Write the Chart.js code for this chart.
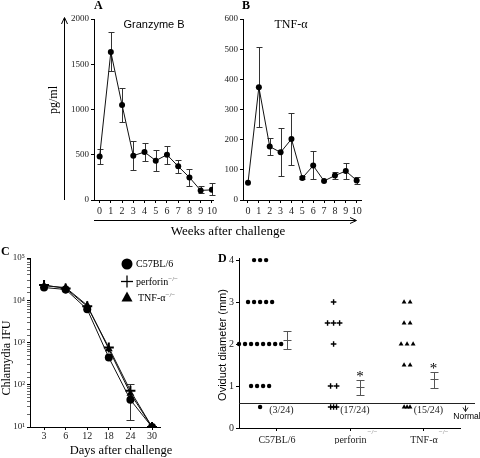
<!DOCTYPE html>
<html>
<head>
<meta charset="utf-8">
<title>Granzyme B, TNF-α and Chlamydia challenge</title>
<script src="https://cdn.jsdelivr.net/npm/chart.js@4.4.1/dist/chart.umd.min.js"></script>
<style>
  body { margin: 0; background: #fff; }
  #fig { position: relative; width: 480px; height: 458px; overflow: hidden;
         font-family: 'Liberation Serif', 'Times New Roman', serif; color: #000; }
  #fig canvas, #fig svg { position: absolute; }
  .lbl { position: absolute; white-space: nowrap; line-height: 1; }
  .c { transform: translate(-50%, -50%); }
  .rot { transform: translate(-50%, -50%) rotate(-90deg); }
  .letter { font-weight: bold; font-size: 12px; }
  .sans { font-family: 'Liberation Sans', Arial, sans-serif; }
  .leg { font-size: 10px; transform: translateY(-50%); }
  sup { font-size: 7px; color: #555; vertical-align: 4px; }
</style>
</head>
<body>
<div id="fig">
  <canvas id="chartA" width="161" height="206" style="left:60px;top:10px"></canvas>
  <canvas id="chartB" width="152" height="206" style="left:215px;top:10px"></canvas>
  <canvas id="chartC" width="168" height="203" style="left:0px;top:240px"></canvas>
  <canvas id="chartD" width="255" height="204" style="left:225px;top:240px"></canvas>

  <svg width="480" height="458" style="left:0;top:0">
    <g stroke="#000" stroke-width="1" fill="none">
      <!-- pg/ml arrow -->
      <line x1="64.5" y1="200" x2="64.5" y2="18"/>
      <polyline points="61.5,24 64.5,17.5 67.5,24"/>
      <!-- weeks arrow -->
      <line x1="94" y1="220.5" x2="356" y2="220.5"/>
      <polyline points="350,217.5 356.5,220.5 350,223.5"/>
      <!-- legend markers, panel C -->
      <line x1="121" y1="281.5" x2="133" y2="281.5" stroke-width="1.3"/>
      <line x1="127" y1="275.5" x2="127" y2="287.5" stroke-width="1.3"/>
    </g>
    <circle cx="127" cy="264" r="5.5" fill="#000"/>
    <polygon points="127,291.5 132.5,301.5 121.5,301.5" fill="#000"/>
  </svg>

  <div class="lbl letter" style="left:94px;top:-1px">A</div>
  <div class="lbl letter" style="left:242px;top:-1px">B</div>
  <div class="lbl letter" style="left:1px;top:245px">C</div>
  <div class="lbl letter" style="left:218px;top:252px">D</div>

  <div class="lbl c sans" style="left:154px;top:24px;font-size:11px">Granzyme B</div>
  <div class="lbl c" style="left:291px;top:24px;font-size:12px">TNF-α</div>
  <div class="lbl rot" style="left:53px;top:100px;font-size:12px">pg/ml</div>
  <div class="lbl c" style="left:228px;top:230px;font-size:13px">Weeks after challenge</div>

  <div class="lbl rot" style="left:6px;top:358px;font-size:12px">Chlamydia IFU</div>
  <div class="lbl c" style="left:121px;top:450px;font-size:12.5px">Days after challenge</div>
  <div class="lbl leg" style="left:136px;top:264px">C57BL/6</div>
  <div class="lbl leg" style="left:136px;top:281px">perforin<sup>−/−</sup></div>
  <div class="lbl leg" style="left:138px;top:297px">TNF-α<sup>−/−</sup></div>

  <div class="lbl rot sans" style="left:222px;top:345px;font-size:11px">Oviduct diameter (mm)</div>
</div>

<script>
// panels A and B: cytokines per week
const weeks = [0, 1, 2, 3, 4, 5, 6, 7, 8, 9, 10];
const granzymeB = [480, 1635, 1050, 490, 530, 435, 500, 372, 250, 106, 112];
const granzymeLow = [400, 1425, 865, 335, 430, 322, 400, 298, 160, 76, 52];
const granzymeHigh = [568, 1855, 1233, 650, 635, 547, 602, 444, 340, 150, 183];
const tnfAlpha = [57, 374, 177, 158, 202, 73, 114, 63, 81, 96, 65];
const tnfLow = [null, 242, 148, 80, 116, 68, 68, null, 69, 68, 54];
const tnfHigh = [null, 506, 204, 238, 287, 79, 162, null, 94, 124, 77];

// panel C: Chlamydia IFU per day
const days = ['3', '6', '12', '18', '24', '30'];
const ifuC57 = [20000, 18000, 6100, 440, 44, 10];
const ifuPerforin = [23000, 19000, 7200, 760, 72, 10];
const ifuTnf = [22000, 20000, 7600, 700, 62, 10];
const ifuC57Low = [null, null, null, null, 15, null];
const ifuC57High = [null, null, null, null, 105, null];

// panel D: oviduct diameter, dots per level
const groups = ['C57BL/6', 'perforin', 'TNF-α'];
const c57Levels = [4, 3, 2, 1, 0.5];
const c57Counts = [3, 5, 8, 4, 1];
const perforinLevels = [3, 2.5, 2, 1, 0.5];
const perforinCounts = [1, 3, 1, 2, 3];
const tnfLevels = [3, 2.5, 2, 1.5, 0.5];
const tnfCounts = [2, 2, 3, 2, 3];
const diamMean = [2.1, 0.97, 1.17];
const diamLow = [1.88, 0.79, 0.96];
const diamHigh = [2.32, 1.14, 1.34];
const normalCounts = ['(3/24)', '(17/24)', '(15/24)'];
const starred = [false, true, true];
const knockout = [false, true, true];
const normalLevel = 0.6;

const ink = '#000';
Chart.defaults.font.family = "'Liberation Serif', 'Times New Roman', serif";
Chart.defaults.font.size = 10;
Chart.defaults.color = '#222';
Chart.defaults.animation = false;
Chart.defaults.plugins.legend.display = false;
Chart.defaults.plugins.tooltip.enabled = false;

// vertical bars with caps, read from errLow / errHigh on the dataset
const errorBars = {
  id: 'errorBars',
  beforeDatasetsDraw(chart) {
    const ctx = chart.ctx, ys = chart.scales.y;
    chart.data.datasets.forEach((ds, di) => {
      if (!ds.errLow) return;
      const meta = chart.getDatasetMeta(di);
      ctx.save();
      ctx.strokeStyle = ds.errColor || '#333';
      ctx.lineWidth = 1;
      meta.data.forEach((pt, i) => {
        const lo = ds.errLow[i], hi = ds.errHigh[i];
        if (lo == null) return;
        const x = Math.round(pt.x) + 0.5;
        const yl = Math.round(ys.getPixelForValue(lo)) + 0.5;
        const yh = Math.round(ys.getPixelForValue(hi)) + 0.5;
        const w = ds.capWidth || 3;
        ctx.beginPath();
        ctx.moveTo(x, yl); ctx.lineTo(x, yh);
        ctx.moveTo(x - w, yl); ctx.lineTo(x + w, yl);
        ctx.moveTo(x - w, yh); ctx.lineTo(x + w, yh);
        if (ds.meanLine) {
          const ym = Math.round(pt.y) + 0.5;
          ctx.moveTo(x - w, ym); ctx.lineTo(x + w, ym);
        }
        ctx.stroke();
      });
      ctx.restore();
    });
  }
};

function axis(size, vertical, extra) {
  const a = {
    grid: { drawOnChartArea: false, color: ink, tickLength: 3 },
    border: { display: true, color: ink, width: 1 },
    ticks: { padding: 2, autoSkip: false, maxRotation: 0 },
    afterFit: vertical ? s => { s.width = size; } : s => { s.height = size; }
  };
  for (const k in extra) {
    if (k === 'ticks' || k === 'grid') Object.assign(a[k], extra[k]);
    else a[k] = extra[k];
  }
  return a;
}

function weekChart(id, values, low, high, yMax, yStep, xMin, xMax, yWidth, padRight) {
  return new Chart(document.getElementById(id), {
    type: 'line',
    data: {
      datasets: [{
        data: weeks.map((w, i) => ({ x: w, y: values[i] })),
        errLow: low, errHigh: high, capWidth: 3,
        borderColor: '#111', borderWidth: 1, tension: 0,
        pointRadius: 3, pointBorderWidth: 0, pointBackgroundColor: ink
      }]
    },
    options: {
      responsive: false,
      layout: { padding: { top: 9, right: padRight, left: 0, bottom: 0 } },
      scales: {
        x: axis(16, false, {
          type: 'linear', min: xMin, max: xMax,
          afterBuildTicks: s => { s.ticks = weeks.map(v => ({ value: v })); }
        }),
        y: axis(yWidth, true, {
          min: 0, max: yMax,
          ticks: { stepSize: yStep, font: { size: 9 }, callback: v => String(v) }
        })
      }
    },
    plugins: [errorBars]
  });
}

weekChart('chartA', granzymeB, granzymeLow, granzymeHigh, 2000, 500, -0.5, 10.1, 34, 8);
weekChart('chartB', tnfAlpha, tnfLow, tnfHigh, 600, 100, -0.46, 10.4, 28, 6);

// panel C
const supDigits = ['⁰', '¹', '²', '³', '⁴', '⁵', '⁶'];
function ifuSet(values, style, radius, width) {
  return {
    data: values.map((v, i) => ({ x: i, y: v })),
    borderColor: '#111', borderWidth: 1, tension: 0,
    pointStyle: style, pointRadius: radius, pointBorderWidth: width,
    pointBackgroundColor: ink, pointBorderColor: ink
  };
}
const c57Set = ifuSet(ifuC57, 'circle', 4, 0);
c57Set.errLow = ifuC57Low; c57Set.errHigh = ifuC57High; c57Set.capWidth = 4;

new Chart(document.getElementById('chartC'), {
  type: 'line',
  data: {
    datasets: [c57Set, ifuSet(ifuPerforin, 'cross', 5, 2), ifuSet(ifuTnf, 'triangle', 4.5, 0)]
  },
  options: {
    responsive: false,
    layout: { padding: { top: 18, right: 8, left: 0, bottom: 0 } },
    scales: {
      x: axis(16, false, {
        type: 'linear', min: -0.65, max: 5.37,
        afterBuildTicks: s => { s.ticks = days.map((d, i) => ({ value: i })); },
        ticks: { padding: 0, callback: v => days[v] }
      }),
      y: axis(30, true, {
        type: 'logarithmic', min: 10, max: 100000,
        ticks: {
          font: { size: 9 },
          callback: v => {
            const e = Math.log10(v), r = Math.round(e);
            return Math.abs(e - r) < 1e-6 ? '10' + supDigits[r] : '';
          }
        },
        grid: { tickColor: c => (c.tick && c.tick.label ? ink : '#666') }
      })
    }
  },
  plugins: [errorBars]
});

// panel D
function cluster(cat, levels, counts) {
  const pts = [];
  levels.forEach((lv, k) => {
    const n = counts[k];
    const step = lv === 0.5 ? 0.04 : 0.082;
    for (let j = 0; j < n; j++) pts.push({ x: cat - 0.23 + (j - (n - 1) / 2) * step, y: lv });
  });
  return pts;
}

const diameterNotes = {
  id: 'diameterNotes',
  afterDraw(chart) {
    const { ctx, chartArea } = chart;
    const xs = chart.scales.x, ys = chart.scales.y;
    ctx.save();
    const ny = Math.round(ys.getPixelForValue(normalLevel)) + 0.5;
    ctx.strokeStyle = '#222';
    ctx.lineWidth = 1;
    ctx.beginPath();
    ctx.moveTo(chartArea.left, ny); ctx.lineTo(chartArea.right + 15, ny);
    const ax = chartArea.right + 5.5;
    ctx.moveTo(ax, ny + 2); ctx.lineTo(ax, ny + 8);
    ctx.moveTo(ax - 2.5, ny + 4); ctx.lineTo(ax, ny + 8); ctx.lineTo(ax + 2.5, ny + 4);
    ctx.stroke();

    ctx.fillStyle = ink;
    ctx.textAlign = 'center';
    ctx.textBaseline = 'middle';
    ctx.font = "8.5px 'Liberation Sans', Arial, sans-serif";
    ctx.fillText('Normal', chartArea.right + 7, ny + 13);

    groups.forEach((g, i) => {
      ctx.font = "10px 'Liberation Serif', serif";
      ctx.fillStyle = '#222';
      ctx.fillText(normalCounts[i], xs.getPixelForValue(i + 1.06), ys.getPixelForValue(0.43));
      if (starred[i]) {
        ctx.font = "15px 'Liberation Serif', serif";
        ctx.fillStyle = ink;
        ctx.fillText('*', xs.getPixelForValue(i + 1.13), ys.getPixelForValue(diamHigh[i]) - 3);
      }
      if (knockout[i]) {
        ctx.font = "10px 'Liberation Serif', serif";
        const half = ctx.measureText(g).width / 2;
        ctx.font = "7px 'Liberation Serif', serif";
        ctx.fillStyle = '#777';
        ctx.textAlign = 'left';
        ctx.fillText('−/−', xs.getPixelForValue(i + 1) + half + 1, chartArea.bottom + 4);
        ctx.textAlign = 'center';
      }
    });
    ctx.restore();
  }
};

new Chart(document.getElementById('chartD'), {
  type: 'scatter',
  data: {
    datasets: [
      { data: cluster(1, c57Levels, c57Counts), pointStyle: 'circle', pointRadius: 2.2,
        pointBorderWidth: 0, pointBackgroundColor: ink, clip: false },
      { data: cluster(2, perforinLevels, perforinCounts), pointStyle: 'cross', pointRadius: 2.8,
        pointBorderWidth: 1.4, pointBorderColor: ink, clip: false },
      { data: cluster(3, tnfLevels, tnfCounts), pointStyle: 'triangle', pointRadius: 2.8,
        pointBorderWidth: 0, pointBackgroundColor: ink, clip: false },
      { data: groups.map((g, i) => ({ x: i + 1.13, y: diamMean[i] })), pointRadius: 0,
        errLow: diamLow, errHigh: diamHigh, capWidth: 4, meanLine: true, errColor: '#555' }
    ]
  },
  options: {
    responsive: false,
    layout: { padding: { top: 18, right: 20, left: 0, bottom: 0 } },
    scales: {
      x: axis(16, false, {
        type: 'linear', min: 0.483, max: 3.49,
        afterBuildTicks: s => { s.ticks = groups.map((g, i) => ({ value: i + 1 })); },
        ticks: { padding: 3, callback: v => groups[v - 1] }
      }),
      y: axis(14, true, { min: 0, max: 4.05, afterBuildTicks: s => {
        s.ticks = [0, 1, 2, 3, 4].map(v => ({ value: v }));
      } })
    }
  },
  plugins: [errorBars, diameterNotes]
});
</script>
</body>
</html>
